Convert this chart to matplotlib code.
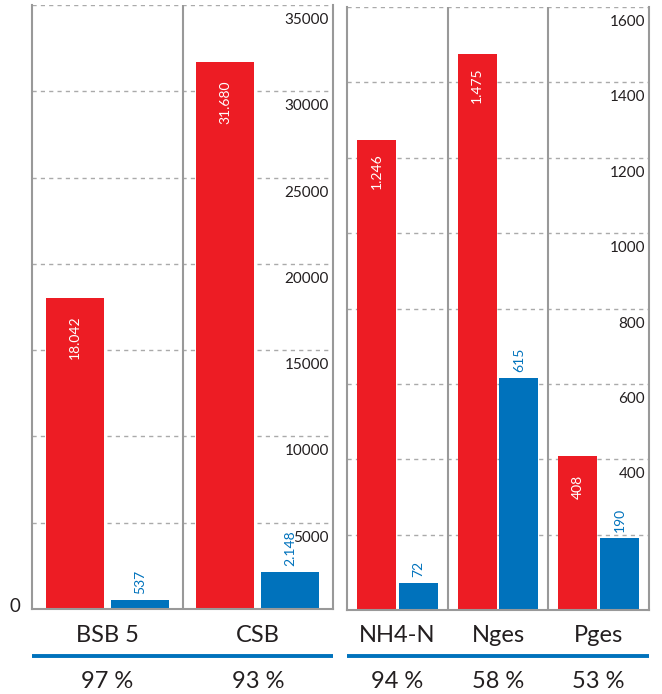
import matplotlib
matplotlib.use("Agg")
import matplotlib.pyplot as plt
from matplotlib.transforms import blended_transform_factory, offset_copy
from matplotlib.lines import Line2D

plt.rcParams['font.family'] = ['Lato', 'DejaVu Sans']

RED = '#ED1C24'
BLUE = '#0072BC'
GRID = '#AAAAAA'
SPINE = '#999999'
TEXT = '#231F20'

# Left panel data
left_cats = ['BSB 5', 'CSB']
left_in = [18042, 31680]
left_out = [537, 2148]
left_in_lbl = ['18.042', '31.680']
left_out_lbl = ['537', '2.148']
left_pct = ['97 %', '93 %']
left_ticks = [5000, 10000, 15000, 20000, 25000, 30000, 35000]

# Right panel data
right_cats = ['NH4-N', 'Nges', 'Pges']
right_in = [1246, 1475, 408]
right_out = [72, 615, 190]
right_in_lbl = ['1.246', '1.475', '408']
right_out_lbl = ['72', '615', '190']
right_pct = ['94 %', '58 %', '53 %']
right_ticks = [200, 400, 600, 800, 1000, 1200, 1400, 1600]
right_tick_labels = ['', '400', '600', '800', '1000', '1200', '1400', '1600']

W, H = 662, 694
fig = plt.figure(figsize=(W / 100, H / 100), dpi=100)


def px_axes(x0, x1, ytop, ybot):
    return fig.add_axes([x0 / W, 1 - ybot / H, (x1 - x0) / W, (ybot - ytop) / H])


def draw_panel(ax, cats, vin, vout, lin, lout, pct, ticks, tlabels, ymax,
               width, off, red_off):
    n = len(cats)
    ax.set_xlim(0, n)
    ax.set_ylim(0, ymax)
    ax.set_xticks([])
    ax.set_yticks([])
    for s in ['left', 'right', 'bottom']:
        ax.spines[s].set_color(SPINE)
        ax.spines[s].set_linewidth(1.5)
    ax.spines['top'].set_visible(False)
    # gridlines
    for t in ticks:
        ax.axhline(t, color=GRID, lw=1.0, ls=(0, (3, 3)), zorder=0)
    # separators
    for i in range(1, n):
        ax.axvline(i, color=SPINE, lw=1.5, zorder=1)
    # tick labels (inside, right aligned, below gridline)
    tr = blended_transform_factory(ax.transAxes, ax.transData)
    tr = offset_copy(tr, fig=fig, x=-4, y=-15, units='dots')
    for t, lab in zip(ticks, tlabels):
        if lab:
            ax.text(1.0, t, lab, transform=tr, ha='right', va='center',
                    fontsize=11, color=TEXT, zorder=1)
    xs = [i + 0.5 for i in range(n)]
    ax.bar([x - off for x in xs], vin, width=width, color=RED, zorder=2)
    ax.bar([x + off for x in xs], vout, width=width, color=BLUE, zorder=2)
    tr_in = offset_copy(ax.transData, fig=fig, x=0, y=-red_off, units='dots')
    tr_out = offset_copy(ax.transData, fig=fig, x=0, y=6, units='dots')
    for x, v, l in zip(xs, vin, lin):
        ax.text(x - off, v, l, transform=tr_in, rotation=90, ha='center',
                va='center', color='white', fontsize=10, zorder=3)
    for x, v, l in zip(xs, vout, lout):
        ax.text(x + off, v, l, transform=tr_out, rotation=90, ha='center',
                va='bottom', color=BLUE, fontsize=10, zorder=3)
    # category labels, blue rule, percentages
    trc = blended_transform_factory(ax.transData, fig.transFigure)
    for x, c, p in zip(xs, cats, pct):
        ax.text(x, 1 - 635 / H, c, transform=trc, ha='center', va='center',
                fontsize=17, color=TEXT, clip_on=False)
        ax.text(x, 1 - 681 / H, p, transform=trc, ha='center', va='center',
                fontsize=17, color=TEXT, clip_on=False)
    ax.add_line(Line2D([0, n], [1 - 656 / H] * 2, transform=trc, color=BLUE,
                       lw=2.8, clip_on=False, solid_capstyle='butt'))


axL = px_axes(32, 333, 5, 609)
draw_panel(axL, left_cats, left_in, left_out, left_in_lbl, left_out_lbl,
           left_pct, left_ticks, [str(t) for t in left_ticks], 35000,
           0.385, 0.216, 40)
axL.text(15 / W, 1 - 606 / H, '0', transform=fig.transFigure, ha='center',
         va='center', fontsize=13.5, color=TEXT)

axR = px_axes(347, 649, 7, 610)
draw_panel(axR, right_cats, right_in, right_out, right_in_lbl, right_out_lbl,
           right_pct, right_ticks, right_tick_labels, 1600,
           0.39, 0.207, 31)

fig.savefig('out.png', dpi=100)
